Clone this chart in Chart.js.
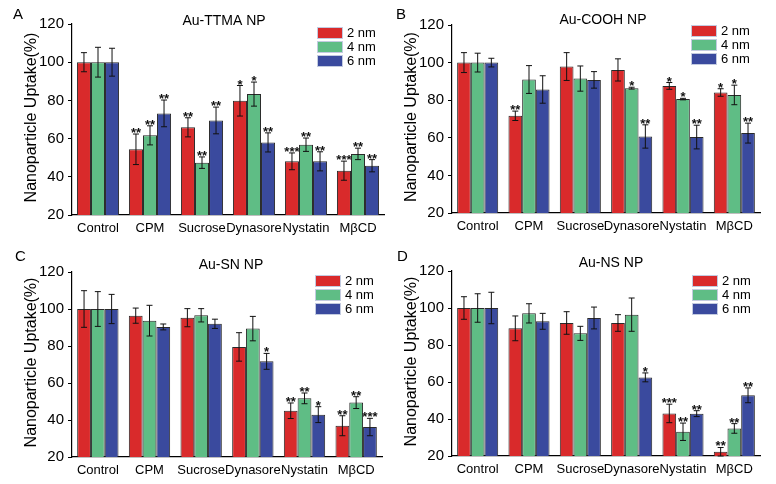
<!DOCTYPE html>
<html>
<head>
<meta charset="utf-8">
<script src="https://cdn.jsdelivr.net/npm/chart.js@4.4.0/dist/chart.umd.min.js"></script>
<style>
    body { margin: 0; background: #fff; width: 776px; height: 484px; position: relative; overflow: hidden; }
    .panel { position: absolute; width: 388px; height: 242px; }
</style>
</head>
<body>
<div class="panel" style="left:0;top:0"><canvas id="panelA" width="388" height="242"></canvas></div>
<div class="panel" style="left:388px;top:0"><canvas id="panelB" width="388" height="242"></canvas></div>
<div class="panel" style="left:0;top:242px"><canvas id="panelC" width="388" height="242"></canvas></div>
<div class="panel" style="left:388px;top:242px"><canvas id="panelD" width="388" height="242"></canvas></div>
<script>
// ---- dados ----
const categorias = ['Control', 'CPM', 'Sucrose', 'Dynasore', 'Nystatin', 'MβCD'];
const tamanhos = ['2 nm', '4 nm', '6 nm'];
const yTicks = [20, 40, 60, 80, 100, 120];

// Au-TTMA NP  (linhas: 2 nm, 4 nm, 6 nm)
const ttmaMedia = [
    [100, 54.4, 65.9, 79.8, 48.1, 43.2],
    [100, 61.7, 47.4, 83.3, 56.8, 52.0],
    [100, 73.2, 69.5, 58.0, 48.1, 45.8]
];
const ttmaErro = [
    [5.0, 8.0, 5.0, 8.0, 4.4, 5.0],
    [7.8, 5.0, 3.0, 6.3, 3.5, 3.0],
    [7.3, 7.0, 7.0, 5.0, 5.0, 3.2]
];
const ttmaSig = [
    ['', '**', '**', '*', '***', '***'],
    ['', '**', '**', '*', '**', '**'],
    ['', '**', '**', '**', '**', '**']
];

// Au-COOH NP
const coohMedia = [
    [100, 71.7, 97.9, 96.1, 87.6, 84.1],
    [100, 91.0, 91.5, 86.4, 80.6, 82.8],
    [100, 85.7, 90.8, 60.7, 60.4, 62.5]
];
const coohErro = [
    [5.3, 2.5, 7.4, 5.9, 1.8, 2.0],
    [5.0, 7.4, 6.7, 0.5, 0.4, 5.2],
    [2.3, 7.3, 4.4, 6.2, 6.3, 5.3]
];
const coohSig = [
    ['', '**', '', '', '*', '*'],
    ['', '', '', '*', '*', '*'],
    ['', '', '', '**', '**', '**']
];

// Au-SN NP
const snMedia = [
    [100, 96.4, 95.3, 79.5, 45.0, 36.9],
    [100, 93.7, 96.6, 89.4, 51.7, 49.4],
    [100, 90.3, 92.0, 71.7, 42.9, 36.2]
];
const snErro = [
    [9.9, 4.1, 4.9, 7.7, 4.2, 5.4],
    [9.4, 8.3, 3.6, 6.6, 2.9, 3.2],
    [7.9, 1.6, 2.5, 4.3, 4.3, 4.7]
];
const snSig = [
    ['', '', '', '', '**', '**'],
    ['', '', '', '', '**', '**'],
    ['', '', '', '*', '*', '***']
];

// Au-NS NP
const nsMedia = [
    [100, 89.0, 91.9, 91.9, 43.0, 22.3],
    [100, 97.1, 86.3, 96.4, 33.1, 34.9],
    [100, 92.8, 94.6, 62.5, 42.9, 52.8]
];
const nsErro = [
    [6.1, 6.7, 6.1, 4.5, 5.0, 2.3],
    [7.7, 5.2, 3.8, 9.0, 4.7, 2.6],
    [8.5, 4.3, 5.9, 2.4, 1.6, 4.0]
];
const nsSig = [
    ['', '', '', '', '***', '**'],
    ['', '', '', '', '**', '**'],
    ['', '', '', '*', '**', '**']
];

const cores = ['#d92a2b', '#5fbd85', '#3a4a9e'];
const FONTE = '"Liberation Sans", Arial, sans-serif';
Chart.defaults.font.family = FONTE;
Chart.defaults.color = '#000';

/**
 * Plugin com barras de erro, asteriscos, legenda, título e letra do painel
 */
function plugin(info) {
    return {
        id: 'decor' + info.letra,
        afterDatasetsDraw(chart) {
            const ctx = chart.ctx;
            const y = chart.scales.y;
            ctx.save();
            chart.data.datasets.forEach((ds, d) => {
                const meta = chart.getDatasetMeta(d);
                meta.data.forEach((bar, i) => {
                    const v = ds.data[i], e = ds.erros[i];
                    const yt = y.getPixelForValue(v + e), yb = y.getPixelForValue(v - e);
                    ctx.strokeStyle = '#111';
                    ctx.lineWidth = 1;
                    ctx.beginPath();
                    ctx.moveTo(bar.x, yt); ctx.lineTo(bar.x, yb);
                    ctx.moveTo(bar.x - 3, yt); ctx.lineTo(bar.x + 3, yt);
                    ctx.moveTo(bar.x - 3, yb); ctx.lineTo(bar.x + 3, yb);
                    ctx.stroke();
                    if (ds.sig[i]) {
                        ctx.fillStyle = '#111';
                        ctx.font = 'bold 13px ' + FONTE;
                        ctx.textAlign = 'center';
                        ctx.textBaseline = 'alphabetic';
                        ctx.fillText(ds.sig[i], bar.x, yt + 3);
                    }
                });
            });
            ctx.restore();
        },
        afterDraw(chart) {
            const ctx = chart.ctx;
            const area = chart.chartArea;
            ctx.save();
            ctx.fillStyle = '#000';
            // letra
            ctx.font = '15px ' + FONTE;
            ctx.textAlign = 'left';
            ctx.textBaseline = 'middle';
            ctx.fillText(info.letra, info.letraX, info.letraY);
            // título
            ctx.font = '14px ' + FONTE;
            ctx.textAlign = 'center';
            ctx.fillText(info.titulo, info.tituloX, info.tituloY);
            // título do eixo y
            ctx.save();
            ctx.translate(area.left - 40, (area.top + area.bottom) / 2 - 2);
            ctx.rotate(-Math.PI / 2);
            ctx.font = '16px ' + FONTE;
            ctx.fillText('Nanoparticle Uptake(%)', 0, 0);
            ctx.restore();
            // legenda
            tamanhos.forEach((t, k) => {
                const by = info.legY + k * 14;
                ctx.fillStyle = cores[k];
                ctx.fillRect(info.legX, by, 26, 12);
                ctx.strokeStyle = '#c3cbe0';
                ctx.lineWidth = 1;
                ctx.strokeRect(info.legX + 0.5, by + 0.5, 25, 11);
                ctx.fillStyle = '#000';
                ctx.font = '13px ' + FONTE;
                ctx.textAlign = 'left';
                ctx.fillText(t, info.legX + 30, by + 6.5);
            });
            ctx.restore();
        }
    };
}

function criarPainel(id, media, erro, sig, info) {
    const box = info.box;
    const datasets = tamanhos.map((t, k) => ({
        label: t,
        data: media[k],
        erros: erro[k],
        sig: sig[k],
        backgroundColor: cores[k],
        borderColor: '#2a2a2a',
        borderWidth: 1,
        categoryPercentage: info.cat,
        barPercentage: 1
    }));
    return new Chart(document.getElementById(id), {
        type: 'bar',
        data: { labels: categorias, datasets },
        options: {
            responsive: false,
            animation: false,
            layout: { padding: { top: box.top, right: 388 - box.right, left: 0, bottom: 0 } },
            plugins: { legend: { display: false }, tooltip: { enabled: false } },
            scales: {
                x: {
                    grid: { display: false, drawTicks: false },
                    border: { display: true, color: '#000', width: 1.2 },
                    ticks: { color: '#000', font: { size: 13 }, padding: 6, maxRotation: 0, autoSkip: false },
                    afterFit: s => { s.height = 242 - box.bottom; }
                },
                y: {
                    min: 20, max: 120,
                    afterBuildTicks: s => { s.ticks = yTicks.map(v => ({ value: v })); },
                    ticks: { color: '#000', font: { size: 15 }, padding: 4 },
                    grid: { drawOnChartArea: false, drawTicks: true, tickLength: 4, color: '#000' },
                    border: { display: true, color: '#000', width: 1.2 },
                    afterFit: s => { s.width = box.left; }
                }
            }
        },
        plugins: [plugin(info)]
    });
}

criarPainel('panelA', ttmaMedia, ttmaErro, ttmaSig, {
    letra: 'A', letraX: 13, letraY: 15, titulo: 'Au-TTMA NP', tituloX: 224, tituloY: 21,
    legX: 317, legY: 27, cat: 0.81, box: { left: 72, right: 384, top: 24, bottom: 215 }
});
criarPainel('panelB', coohMedia, coohErro, coohSig, {
    letra: 'B', letraX: 8, letraY: 15, titulo: 'Au-COOH NP', tituloX: 215, tituloY: 20,
    legX: 303, legY: 25, cat: 0.8, box: { left: 64, right: 372, top: 25, bottom: 213 }
});
criarPainel('panelC', snMedia, snErro, snSig, {
    letra: 'C', letraX: 15, letraY: 15, titulo: 'Au-SN NP', tituloX: 231, tituloY: 23,
    legX: 315, legY: 33, cat: 0.8, box: { left: 72, right: 382, top: 30, bottom: 215 }
});
criarPainel('panelD', nsMedia, nsErro, nsSig, {
    letra: 'D', letraX: 9, letraY: 15, titulo: 'Au-NS NP', tituloX: 223, tituloY: 21,
    legX: 304, legY: 33, cat: 0.8, box: { left: 64, right: 372, top: 29, bottom: 214 }
});
</script>
</body>
</html>
